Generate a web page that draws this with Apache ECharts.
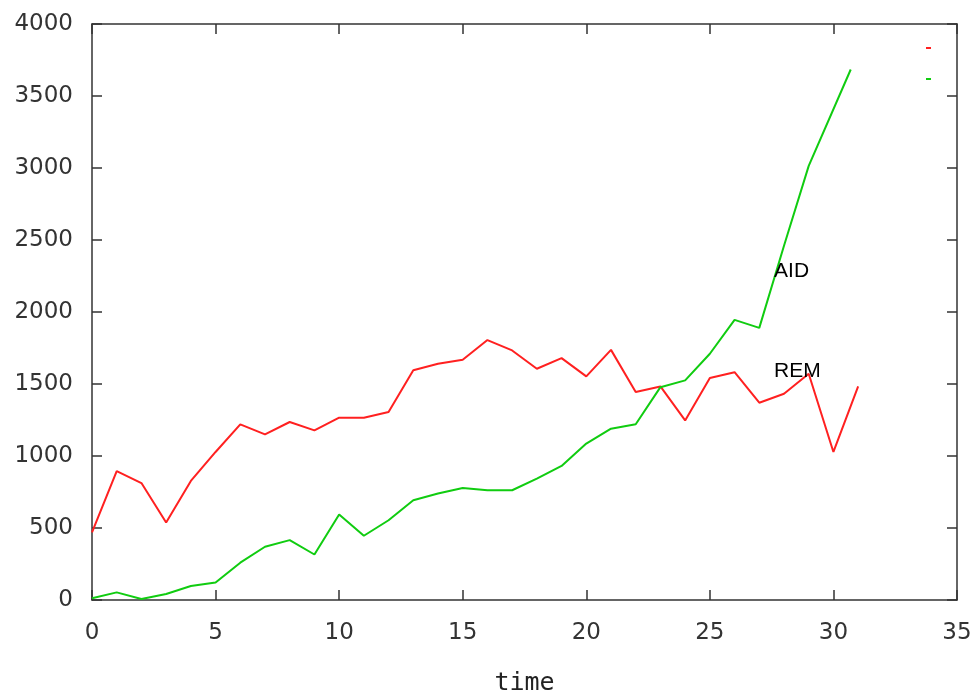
<!DOCTYPE html>
<html>
<head>
<meta charset="utf-8">
<script src="https://cdn.jsdelivr.net/npm/echarts@6/dist/echarts.min.js"></script>
<style>html,body{margin:0;padding:0;background:#fff}#c{width:975px;height:698px}</style>
</head>
<body>
<div id="c"></div>
<script>
const xTicks = [0, 5, 10, 15, 20, 25, 30, 35];
const yTicks = [0, 500, 1000, 1500, 2000, 2500, 3000, 3500, 4000];
const remTime = [0,1,2,3,4,5,6,7,8,9,10,11,12,13,14,15,16,17,18,19,20,21,22,23,24,25,26,27,28,29,30,31];
const remValues = [470,895,812,538,827,1028,1220,1150,1236,1178,1266,1266,1305,1596,1640,1668,1805,1733,1606,1680,1553,1737,1444,1483,1247,1541,1582,1370,1432,1571,1028,1483];
const aidTime = [0,1,2,3,4,5,6,7,8,9,10,11,12,13,14,15,16,17,18,19,20,21,22,23,24,25,26,27,28,29,30.7];
const aidValues = [12,53,7,42,97,122,259,370,416,316,594,446,554,693,739,778,762,762,843,931,1086,1190,1220,1478,1525,1710,1945,1890,2460,3015,3684];
const labelAID = {text: 'AID', t: 27.6, v: 2280};
const labelREM = {text: 'REM', t: 27.6, v: 1587};

const zip = (a, b) => a.map((t, i) => [t, b[i]]);
const tickFont = {fontFamily: 'DejaVu Sans', fontSize: 23, color: '#333', formatter: v => String(v)};
const axisLineStyle = {color: '#333', width: 1.5};

const chart = echarts.init(document.getElementById('c'), null, {renderer: 'canvas'});
chart.setOption({
  animation: false,
  backgroundColor: '#fff',
  grid: {left: 92, right: 18, top: 24, bottom: 98, containLabel: false, outerBoundsMode: 'none'},
  legend: {
    orient: 'vertical', left: 921, top: 42, itemWidth: 5, itemHeight: 2, itemGap: 29,
    icon: 'rect', formatter: () => '', textStyle: {fontSize: 1},
    data: ['REM', 'AID']
  },
  xAxis: [{
    type: 'value', min: xTicks[0], max: xTicks[xTicks.length - 1], interval: 5,
    position: 'bottom',
    name: 'time', nameLocation: 'middle', nameGap: 71,
    nameTextStyle: {fontFamily: 'DejaVu Sans Mono', fontSize: 25, color: '#222'},
    axisLine: {onZero: false, lineStyle: axisLineStyle},
    axisTick: {inside: true, length: 10, lineStyle: axisLineStyle},
    axisLabel: Object.assign({margin: 22}, tickFont),
    splitLine: {show: false}
  }, {
    type: 'value', min: xTicks[0], max: xTicks[xTicks.length - 1], interval: 5,
    position: 'top',
    axisLine: {show: true, onZero: false, lineStyle: axisLineStyle},
    axisTick: {show: true, inside: true, length: 10, lineStyle: axisLineStyle},
    axisLabel: {show: false},
    splitLine: {show: false}
  }],
  yAxis: [{
    type: 'value', min: yTicks[0], max: yTicks[yTicks.length - 1], interval: 500,
    position: 'left',
    axisLine: {show: true, onZero: false, lineStyle: axisLineStyle},
    axisTick: {show: true, inside: true, length: 10, lineStyle: axisLineStyle},
    axisLabel: Object.assign({margin: 19}, tickFont),
    splitLine: {show: false}
  }, {
    type: 'value', min: yTicks[0], max: yTicks[yTicks.length - 1], interval: 500,
    position: 'right',
    axisLine: {show: true, onZero: false, lineStyle: axisLineStyle},
    axisTick: {show: true, inside: true, length: 10, lineStyle: axisLineStyle},
    axisLabel: {show: false},
    splitLine: {show: false}
  }],
  series: [{
    name: 'REM', type: 'line', xAxisIndex: 0, yAxisIndex: 0,
    data: zip(remTime, remValues), showSymbol: false, symbol: 'none',
    lineStyle: {color: '#ff2020', width: 2}, itemStyle: {color: '#ff2020'},
    markPoint: {
      symbol: 'circle', symbolSize: 0,
      label: {show: true, position: 'right', distance: 0, formatter: labelREM.text,
        fontFamily: 'Liberation Sans', fontSize: 21, color: '#000'},
      data: [{coord: [labelREM.t, labelREM.v]}]
    }
  }, {
    name: 'AID', type: 'line', xAxisIndex: 0, yAxisIndex: 0,
    data: zip(aidTime, aidValues), showSymbol: false, symbol: 'none',
    lineStyle: {color: '#10cc10', width: 2}, itemStyle: {color: '#10cc10'},
    markPoint: {
      symbol: 'circle', symbolSize: 0,
      label: {show: true, position: 'right', distance: 0, formatter: labelAID.text,
        fontFamily: 'Liberation Sans', fontSize: 21, color: '#000'},
      data: [{coord: [labelAID.t, labelAID.v]}]
    }
  }]
});
</script>
</body>
</html>
